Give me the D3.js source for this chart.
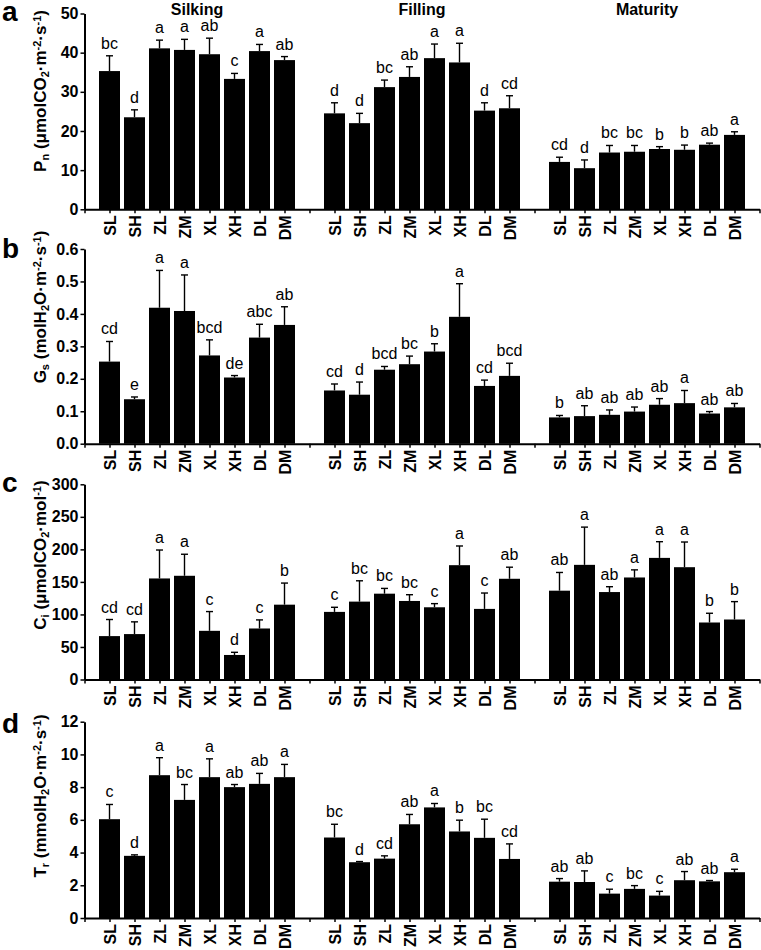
<!DOCTYPE html>
<html>
<head>
<meta charset="utf-8">
<script src="https://cdn.jsdelivr.net/npm/d3@7"></script>
<style>
  body { margin: 0; background: white; }
  svg { font-family: "Liberation Sans", Arial, sans-serif; }
</style>
</head>
<body>
<div id="vis"></div>
<script>
// data
let stages = ["Silking", "Filling", "Maturity"]
let treatments = ["SL", "SH", "ZL", "ZM", "XL", "XH", "DL", "DM"]

let pnMean = [35.3, 23.5, 41.1, 40.7, 39.6, 33.3, 40.4, 38.1,
  24.5, 22.0, 31.2, 33.8, 38.6, 37.5, 25.2, 25.8,
  12.1, 10.5, 14.5, 14.7, 15.4, 15.2, 16.5, 19.0]
let pnErr = [3.9, 1.9, 2.1, 2.7, 4.1, 1.4, 1.7, 0.9,
  2.7, 2.5, 1.8, 2.6, 3.6, 4.9, 2.0, 3.2,
  1.2, 2.1, 1.8, 1.6, 0.6, 1.2, 0.4, 0.8]
let pnSig = ["bc", "d", "a", "a", "ab", "c", "a", "ab",
  "d", "d", "bc", "ab", "a", "a", "d", "cd",
  "cd", "d", "bc", "bc", "b", "b", "ab", "a"]

let gsMean = [0.253, 0.137, 0.419, 0.409, 0.272, 0.204, 0.327, 0.366,
  0.164, 0.151, 0.228, 0.245, 0.284, 0.391, 0.178, 0.209,
  0.081, 0.085, 0.089, 0.099, 0.120, 0.125, 0.093, 0.112]
let gsErr = [0.062, 0.007, 0.115, 0.111, 0.048, 0.006, 0.041, 0.056,
  0.020, 0.039, 0.010, 0.025, 0.024, 0.102, 0.018, 0.039,
  0.006, 0.032, 0.015, 0.014, 0.019, 0.039, 0.006, 0.012]
let gsSig = ["cd", "e", "a", "a", "bcd", "de", "abc", "ab",
  "cd", "d", "bcd", "bc", "b", "a", "cd", "bcd",
  "b", "ab", "ab", "ab", "ab", "a", "ab", "ab"]

let ciMean = [66.7, 69.8, 155.3, 159.4, 74.8, 37.7, 78.4, 115.0,
  103.9, 119.7, 131.9, 120.7, 111.0, 175.7, 108.5, 154.8,
  136.5, 176.2, 134.4, 156.8, 186.9, 172.6, 87.6, 92.2]
let ciErr = [25.5, 18.8, 43.7, 33.1, 29.6, 4.1, 13.2, 33.2,
  7.1, 32.0, 8.1, 9.6, 5.6, 29.5, 24.4, 17.8,
  28.0, 58.0, 8.2, 11.7, 24.9, 38.7, 14.2, 27.5]
let ciSig = ["cd", "cd", "a", "a", "c", "d", "c", "b",
  "c", "bc", "bc", "bc", "c", "a", "c", "ab",
  "ab", "a", "ab", "a", "a", "a", "b", "b"]

let trMean = [6.04, 3.80, 8.73, 7.22, 8.61, 8.00, 8.20, 8.61,
  4.92, 3.41, 3.63, 5.73, 6.76, 5.29, 4.90, 3.61,
  2.22, 2.20, 1.49, 1.78, 1.37, 2.31, 2.24, 2.80]
let trErr = [0.90, 0.06, 1.07, 0.94, 1.12, 0.16, 0.64, 0.78,
  0.81, 0.04, 0.17, 0.60, 0.24, 0.69, 1.14, 0.92,
  0.19, 0.68, 0.27, 0.20, 0.26, 0.53, 0.05, 0.18]
let trSig = ["c", "d", "a", "bc", "a", "ab", "ab", "a",
  "bc", "d", "cd", "ab", "a", "b", "bc", "cd",
  "ab", "ab", "c", "bc", "c", "ab", "ab", "a"]

let pnTicks = [0, 10, 20, 30, 40, 50]
let gsTicks = [0, 0.1, 0.2, 0.3, 0.4, 0.5, 0.6]
let ciTicks = [0, 50, 100, 150, 200, 250, 300]
let trTicks = [0, 2, 4, 6, 8, 10, 12]

// y-axis titles as [text, shift] pieces: 0 normal, 1 sub, -1 sup
let pnTitle = [["P", 0], ["n", 1], [" (μmolCO", 0], ["2", 1], ["·m", 0], ["-2", -1], ["·s", 0], ["-1", -1], [")", 0]]
let gsTitle = [["G", 0], ["s", 1], [" (molH", 0], ["2", 1], ["O·m", 0], ["-2", -1], ["·s", 0], ["-1", -1], [")", 0]]
let ciTitle = [["C", 0], ["i", 1], [" (μmolCO", 0], ["2", 1], ["·mol", 0], ["-1", -1], [")", 0]]
let trTitle = [["T", 0], ["r", 1], [" (mmolH", 0], ["2", 1], ["O·m", 0], ["-2", -1], ["·s", 0], ["-1", -1], [")", 0]]

let panels = [
  { letter: "a", mean: pnMean, err: pnErr, sig: pnSig, ticks: pnTicks, fmt: d3.format("d"), title: pnTitle, top: 13.5, bottom: 209.3, titleY: 91, letterY: 21 },
  { letter: "b", mean: gsMean, err: gsErr, sig: gsSig, ticks: gsTicks, fmt: d3.format(".1f"), title: gsTitle, top: 249, bottom: 443.7, titleY: 307, letterY: 258 },
  { letter: "c", mean: ciMean, err: ciErr, sig: ciSig, ticks: ciTicks, fmt: d3.format("d"), title: ciTitle, top: 484.3, bottom: 679.5, titleY: 555, letterY: 492 },
  { letter: "d", mean: trMean, err: trErr, sig: trSig, ticks: trTicks, fmt: d3.format("d"), title: trTitle, top: 721.7, bottom: 918, titleY: 796, letterY: 733 }
]

let width = 761, height = 950

let svg = d3.select('#vis')
  .append('svg')
  .attr('width', width)
  .attr('height', height)
  .style('background-color', 'white')

// one slot per bar, an empty slot between stages
let slotOf = i => 1 + Math.floor(i / 8) * 9 + (i % 8)
let x = d3.scaleLinear().domain([0, 27]).range([84.5, 759.5])
let barW = 21

function slotLabel(s) {
  let k = s % 9
  if (k === 0) return ""
  return treatments[k - 1]
}

panels.forEach(p => {
  let y = d3.scaleLinear().domain([p.ticks[0], p.ticks[p.ticks.length - 1]]).range([p.bottom, p.top])
  let g = svg.append('g')

  let rows = p.mean.map((m, i) => ({ slot: slotOf(i), mean: m, err: p.err[i], sig: p.sig[i] }))

  // bars
  g.selectAll('rect.bar')
    .data(rows)
    .join('rect')
    .attr('class', 'bar')
    .attr('x', d => x(d.slot) - barW / 2)
    .attr('width', barW)
    .attr('y', d => y(d.mean))
    .attr('height', d => y(0) - y(d.mean))
    .attr('fill', '#000')

  // error bars
  g.selectAll('line.err')
    .data(rows)
    .join('line')
    .attr('class', 'err')
    .attr('x1', d => x(d.slot))
    .attr('x2', d => x(d.slot))
    .attr('y1', d => y(d.mean))
    .attr('y2', d => y(d.mean + d.err))
    .attr('stroke', '#000')
    .attr('stroke-width', 1.4)
  g.selectAll('line.cap')
    .data(rows)
    .join('line')
    .attr('class', 'cap')
    .attr('x1', d => x(d.slot) - 3.5)
    .attr('x2', d => x(d.slot) + 3.5)
    .attr('y1', d => y(d.mean + d.err))
    .attr('y2', d => y(d.mean + d.err))
    .attr('stroke', '#000')
    .attr('stroke-width', 1.4)

  // significance letters
  g.selectAll('text.sig')
    .data(rows)
    .join('text')
    .attr('class', 'sig')
    .attr('x', d => x(d.slot))
    .attr('y', d => y(d.mean + d.err) - 7)
    .attr('text-anchor', 'middle')
    .style('font-size', '16px')
    .text(d => d.sig)

  // x axis
  let xAxis = g.append('g')
    .attr('transform', 'translate(0,' + p.bottom + ')')
    .call(d3.axisBottom(x).tickValues(d3.range(28)).tickSize(4).tickSizeOuter(0).tickFormat(slotLabel))
  xAxis.select('.domain').attr('stroke-width', 2)
  xAxis.selectAll('.tick line').attr('stroke-width', 1.5)
  xAxis.selectAll('text')
    .attr('transform', 'rotate(-90)')
    .attr('text-anchor', 'end')
    .attr('x', -6)
    .attr('y', 0)
    .attr('dy', '0.36em')
    .attr('fill', '#000')
    .style('font-size', '16px')
    .style('font-weight', 'bold')
    .style('font-family', '"Liberation Sans", Arial, sans-serif')

  // y axis
  let yAxis = g.append('g')
    .attr('transform', 'translate(84.5,0)')
    .call(d3.axisLeft(y).tickValues(p.ticks).tickSize(4).tickSizeOuter(0).tickPadding(2).tickFormat(p.fmt))
  yAxis.select('.domain').attr('stroke-width', 2)
  yAxis.selectAll('.tick line').attr('stroke-width', 1.5)
  yAxis.selectAll('text')
    .attr('fill', '#000')
    .style('font-size', '16px')
    .style('font-weight', 'bold')
    .style('font-family', '"Liberation Sans", Arial, sans-serif')

  // y title
  let t = svg.append('text')
    .attr('transform', 'translate(46,' + p.titleY + ') rotate(-90)')
    .attr('text-anchor', 'middle')
    .style('font-size', '17px')
    .style('font-weight', 'bold')
  p.title.forEach(piece => {
    let span = t.append('tspan').text(piece[0])
    if (piece[1] !== 0) {
      span.style('font-size', '11px')
        .attr('baseline-shift', piece[1] > 0 ? '-25%' : '45%')
    }
  })

  // panel letter
  svg.append('text')
    .attr('x', 2)
    .attr('y', p.letterY)
    .style('font-size', '28px')
    .style('font-weight', 'bold')
    .text(p.letter)
})

// stage names above panel a
svg.selectAll('text.stage')
  .data(stages)
  .join('text')
  .attr('class', 'stage')
  .attr('x', (d, i) => x(i * 9 + 4.5))
  .attr('y', 15)
  .attr('text-anchor', 'middle')
  .style('font-size', '16px')
  .style('font-weight', 'bold')
  .text(d => d)
</script>
</body>
</html>
